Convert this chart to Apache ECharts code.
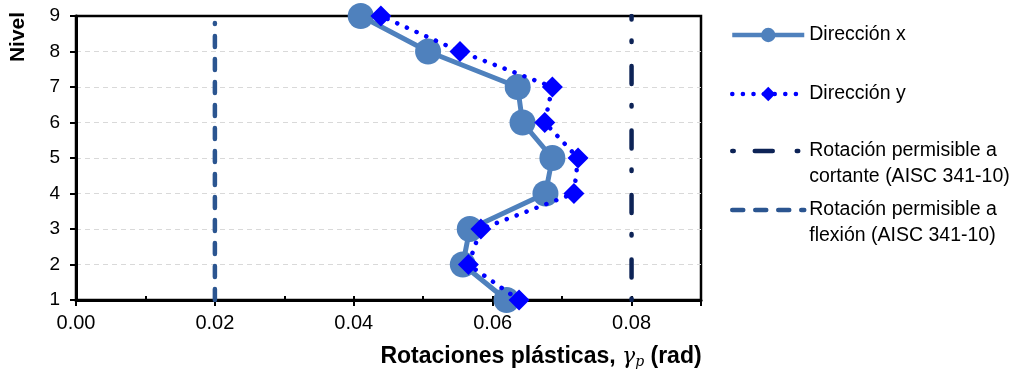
<!DOCTYPE html>
<html>
<head>
<meta charset="utf-8">
<title>Rotaciones plásticas</title>
<script src="https://cdn.jsdelivr.net/npm/echarts@6/dist/echarts.min.js"></script>
<style>
  html, body { margin: 0; padding: 0; background: #fff; }
  #chart { width: 1013px; height: 377px; }
</style>
</head>
<body>
<div id="chart"></div>
<script>
// datos
var niveles = [1, 2, 3, 4, 5, 6, 7, 8, 9];
var rotX = [0.0620, 0.0557, 0.0567, 0.0676, 0.0686, 0.0643, 0.0636, 0.0507, 0.0410];
var rotY = [0.0638, 0.0565, 0.0583, 0.0717, 0.0723, 0.0675, 0.0686, 0.0553, 0.0439];
var limCortante = 0.08;
var nivCortante = [1, 9];
var limFlexion = 0.02;
var nivFlexion = [1, 8.8];
var nombres = ['Dirección x', 'Dirección y',
  'Rotación permisible a\ncortante (AISC 341-10)',
  'Rotación permisible a\nflexión (AISC 341-10)'];

var fuente = "'Liberation Sans', Arial, sans-serif";

function pares(xs, ys) {
  return ys.map(function (y, i) { return [xs[i], y]; });
}

// leyenda: una por serie para poder colocarlas a mano
function leyenda(nombre, top) {
  return {
    data: [nombre],
    left: 725,
    top: top,
    orient: 'vertical',
    itemWidth: 72,
    itemHeight: 18,
    selectedMode: false,
    lineStyle: { width: 4.5 },
    textStyle: { fontFamily: fuente, fontSize: 19.5, color: '#000', lineHeight: 26 },
    formatter: function (n) {
      // linea vacia arriba para que el icono quede con la primera linea
      return n.indexOf('\n') >= 0 ? '\n' + n : n;
    }
  };
}

var myChart = echarts.init(document.getElementById('chart'));
var option = {
  animation: false,
  grid: {
    left: 76, right: 312, top: 16, bottom: 77,
    show: true, borderColor: '#000', borderWidth: 2.5
  },
  legend: [
    leyenda(nombres[0], 17),
    leyenda(nombres[1], 76),
    leyenda(nombres[2], 107),
    leyenda(nombres[3], 166)
  ],
  xAxis: [{
    type: 'value',
    min: 0, max: 0.09, interval: 0.02,
    name: '{b|Rotaciones plásticas, }{g|γ}{s|p}{b| (rad)}',
    nameLocation: 'middle',
    nameGap: 45,
    nameTextStyle: {
      padding: [0, 0, 0, 305],
      rich: {
        b: { fontFamily: fuente, fontSize: 23, fontWeight: 'bold', color: '#000' },
        g: { fontFamily: 'DejaVu Serif', fontSize: 22, fontStyle: 'italic', color: '#000' },
        s: { fontFamily: 'DejaVu Serif', fontSize: 14, fontStyle: 'italic', color: '#000', padding: [10, 0, 0, 0] }
      }
    },
    axisLine: { lineStyle: { color: '#000', width: 3 } },
    axisTick: { length: 6, lineStyle: { color: '#000', width: 2 } },
    axisLabel: {
      margin: 13, fontFamily: fuente, fontSize: 20, color: '#000',
      formatter: function (v) {
        return Math.round(v * 100) % 2 === 0 ? v.toFixed(2) : '';
      }
    },
    splitLine: { show: false }
  }, {
    // ticks menores hacia adentro
    type: 'value', position: 'bottom',
    min: 0, max: 0.09, interval: 0.01,
    axisLine: { show: false },
    axisTick: { inside: true, length: 4, lineStyle: { color: '#000', width: 2 } },
    axisLabel: { show: false },
    splitLine: { show: false }
  }],
  yAxis: {
    type: 'value',
    min: 1, max: 9, interval: 1,
    name: 'Nivel',
    nameLocation: 'middle',
    nameRotate: 90,
    nameGap: 47,
    nameTextStyle: {
      fontFamily: fuente, fontSize: 21, fontWeight: 'bold', color: '#000',
      padding: [0, 0, 0, 242]
    },
    axisLine: { show: true, lineStyle: { color: '#000', width: 3 } },
    axisTick: { show: true, length: 6, lineStyle: { color: '#000', width: 2 } },
    axisLabel: { margin: 16, fontFamily: fuente, fontSize: 19, color: '#000' },
    splitLine: {
      showMinLine: false, showMaxLine: false,
      lineStyle: { color: '#d9d9d9', type: [5, 4], width: 1 }
    }
  },
  series: [{
    name: nombres[0],
    type: 'line',
    data: pares(rotX, niveles),
    symbol: 'circle',
    symbolSize: 26,
    itemStyle: { color: '#4f81bd' },
    lineStyle: { color: '#4f81bd', width: 5 },
    z: 3
  }, {
    name: nombres[1],
    type: 'line',
    data: pares(rotY, niveles),
    symbol: 'diamond',
    symbolSize: 21,
    itemStyle: { color: '#0000ff' },
    lineStyle: { color: '#0000ff', width: 4.5, type: [0.1, 10.5], cap: 'round' },
    z: 4
  }, {
    name: nombres[2],
    type: 'line',
    data: nivCortante.map(function (n) { return [limCortante, n]; }),
    symbol: 'none',
    itemStyle: { color: 'rgba(0,0,0,0)' },
    lineStyle: { color: '#0d2356', width: 4.5, type: [1.5, 21, 18, 24], cap: 'round' }
  }, {
    name: nombres[3],
    type: 'line',
    data: nivFlexion.map(function (n) { return [limFlexion, n]; }),
    symbol: 'none',
    itemStyle: { color: 'rgba(0,0,0,0)' },
    lineStyle: { color: '#2b5590', width: 4.5, type: [11, 12], cap: 'round' }
  }]
};
myChart.setOption(option);
</script>
</body>
</html>
